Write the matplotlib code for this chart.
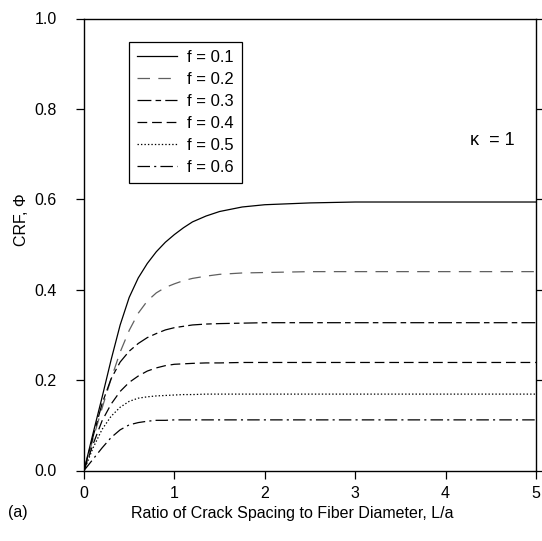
import numpy as np
import matplotlib.pyplot as plt

plt.rcParams['font.family'] = ['Liberation Sans', 'DejaVu Sans']
plt.rcParams['lines.scale_dashes'] = False

# values
x = [0, 0.1, 0.2, 0.3, 0.4, 0.5, 0.6, 0.7, 0.8, 0.9, 1.0, 1.1, 1.2, 1.35, 1.5, 1.75, 2.0, 2.5, 3.0, 4.0, 5.0]
phi_01 = [0, 0.082, 0.162, 0.245, 0.322, 0.383, 0.426, 0.458, 0.484, 0.505, 0.522, 0.537, 0.550, 0.563, 0.573, 0.583, 0.588, 0.592, 0.594, 0.594, 0.594]
phi_02 = [0, 0.070, 0.138, 0.203, 0.262, 0.310, 0.348, 0.375, 0.393, 0.405, 0.413, 0.420, 0.425, 0.430, 0.434, 0.437, 0.438, 0.440, 0.440, 0.440, 0.440]
phi_03 = [0, 0.075, 0.148, 0.203, 0.240, 0.264, 0.281, 0.294, 0.303, 0.311, 0.316, 0.319, 0.322, 0.324, 0.325, 0.326, 0.327, 0.327, 0.327, 0.327, 0.327]
phi_04 = [0, 0.058, 0.110, 0.147, 0.175, 0.195, 0.209, 0.220, 0.227, 0.232, 0.235, 0.236, 0.237, 0.238, 0.238, 0.239, 0.239, 0.239, 0.239, 0.239, 0.239]
phi_05 = [0, 0.050, 0.091, 0.120, 0.140, 0.153, 0.160, 0.163, 0.165, 0.166, 0.167, 0.168, 0.168, 0.169, 0.169, 0.169, 0.169, 0.169, 0.169, 0.169, 0.169]
phi_06 = [0, 0.025, 0.050, 0.073, 0.090, 0.101, 0.106, 0.109, 0.111, 0.111, 0.112, 0.112, 0.112, 0.112, 0.112, 0.112, 0.112, 0.112, 0.112, 0.112, 0.112]

labels = ['f = 0.1', 'f = 0.2', 'f = 0.3', 'f = 0.4', 'f = 0.5', 'f = 0.6']
styles = ['-', (0, (9, 6)), (0, (10, 3, 4, 3)), (0, (7, 3.5)), (0, (1, 1.5)), (0, (9, 3, 1.5, 3))]
colors = ['black', '#606060', 'black', 'black', 'black', 'black']

fig = plt.figure(figsize=(5.42, 5.41), dpi=100)
ax = fig.add_axes([84/542, 1 - 470.5/541, 452/542, 452/541])

for y, lab, ls, c in zip([phi_01, phi_02, phi_03, phi_04, phi_05, phi_06], labels, styles, colors):
    ax.plot(x, y, linestyle=ls, color=c, linewidth=0.9, label=lab)

ax.set_xlim(0, 5)
ax.set_ylim(0, 1.0)
ax.set_xticks([0, 1, 2, 3, 4, 5])
ax.set_yticks([0, 0.2, 0.4, 0.6, 0.8, 1.0])
ax.set_yticklabels(['0.0', '0.2', '0.4', '0.6', '0.8', '1.0'])
ax.tick_params(direction='out', length=5.5, width=0.9, labelsize=11.5,
               right=True, top=False)
ax.tick_params(axis='x', pad=6)
ax.tick_params(axis='y', pad=14)
for s in ax.spines.values():
    s.set_linewidth(1.0)

ax.set_xlabel('Ratio of Crack Spacing to Fiber Diameter, L/a', fontsize=11.5)
ax.xaxis.set_label_coords(0.461, -0.078)
ax.set_ylabel('CRF, \u03a6', fontsize=11.5)
ax.yaxis.set_label_coords(-0.122, 0.554)

ax.text(4.27, 0.731, '\u03ba  = 1', fontsize=13, ha='left', va='center')
fig.text(8/542, 1 - 512/541, '(a)', fontsize=11.5, va='center')

leg = ax.legend(loc='upper left', bbox_to_anchor=(0.0996, 0.949), borderaxespad=0,
                fontsize=12, handlelength=2.4, handletextpad=0.6, labelspacing=0.42,
                fancybox=False, edgecolor='black', framealpha=1, borderpad=0.5)
leg.get_frame().set_linewidth(0.9)

fig.savefig('out.png', dpi=100)
